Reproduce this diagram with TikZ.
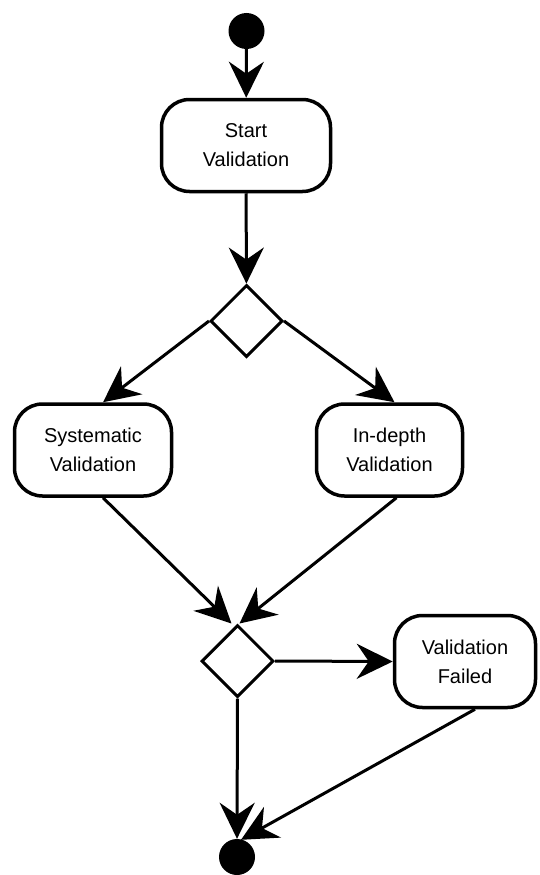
\documentclass[tikz,border=0pt]{standalone}
\usepackage{fontspec}
\setmainfont{Liberation Sans}
\usetikzlibrary{arrows.meta,calc,shapes.geometric}

\begin{document}
\begin{tikzpicture}[x=1pt,y=-1pt,
  act/.style={draw, line width=3.5pt, rounded corners=28pt, align=center,
    font=\fontsize{20}{29}\selectfont, inner sep=0pt,
    minimum width=#1, minimum height=92pt},
  choice/.style={draw, shape=diamond, line width=3pt, inner sep=0pt,
    minimum width=72pt, minimum height=72pt},
  dot/.style={circle, fill=black, inner sep=0pt, minimum size=36pt},
  flow/.style={line width=3pt,
    -{Stealth[length=36pt, width=35pt, inset=12pt]}}]

\useasboundingbox (0,0) rectangle (539,875);

% nodes
\node[dot] (init) at (246.5,31) {};
\node[act=169pt] (start) at (246,145.5) {Start\\Validation};
\node[choice] (d1) at (246.5,321) {};
\node[act=157pt] (sys) at (93,450) {Systematic\\Validation};
\node[act=146pt] (ind) at (389.5,450) {In-depth\\Validation};
\node[choice] (d2) at (237.5,661) {};
\node[act=141pt] (fail) at (465,661.5) {Validation\\Failed};
\node[dot] (final) at (237,857) {};

% control flow
\draw[flow] (init) -- (start);
\draw[flow] (start) -- (d1);
\draw[flow] (d1.west) -- ($(sys.north)+(10,0)$);
\draw[flow] (d1.east) -- ($(ind.north)+(5,0)$);
\draw[flow] ($(sys.south)+(10,0)$) -- ($(d2.north)+(-6,0)$);
\draw[flow] ($(ind.south)+(7,0)$) -- ($(d2.north)+(2,0)$);
\draw[flow] (d2.east) -- (fail.west);
\draw[flow] (d2.south) -- (final.north);
\draw[flow] ($(fail.south)+(10,0)$) -- ($(final.north)+(4,1)$);
\end{tikzpicture}
\end{document}
